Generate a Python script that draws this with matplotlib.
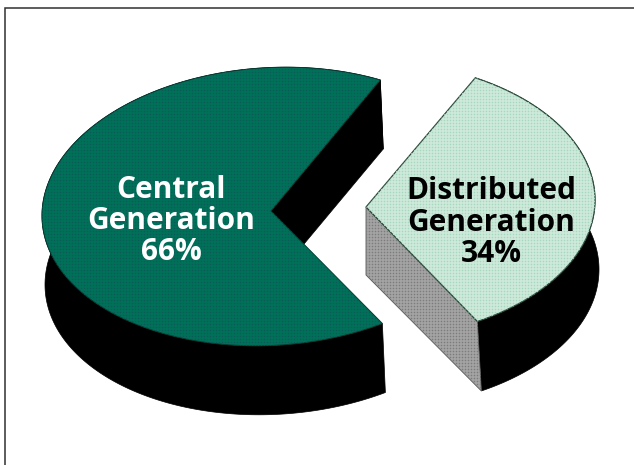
import numpy as np
import matplotlib
matplotlib.use("Agg")
import matplotlib.pyplot as plt
from matplotlib.patches import Polygon

# Data
labels = ["Central\nGeneration\n66%", "Distributed\nGeneration\n34%"]
shares = [66, 34]
top_colors = ["#00725a", "#cfeadb"]
dot_colors = ["#0c5a58", "#a6d8be"]
text_colors = ["white", "black"]
wall_color = "#a4a4a4"
wall_dots = "#7c7c7c"

W, H = 634, 465
fig = plt.figure(figsize=(W / 100, H / 100), dpi=100)
ax = fig.add_axes([0, 0, 1, 1])
ax.set_xlim(0, W)
ax.set_ylim(H, 0)
ax.axis("off")

RX = 229
start = 61.5  # parameter angle where the large slice begins
sweep_big = shares[0] / sum(shares) * 360


def arc(cx, cy, ry, shear, t0, t1, n=240):
    t = np.radians(np.linspace(t0, t1, n))
    dx = RX * np.cos(t)
    return np.column_stack([cx + dx, cy - ry * np.sin(t) - shear * dx])


def dots(patch, color):
    xs, ys = np.meshgrid(np.arange(0, W, 3.0), np.arange(0, H, 3.0))
    sc = ax.scatter(xs.ravel(), ys.ravel(), s=1.3, c=color, linewidths=0,
                    marker="o", zorder=patch.get_zorder() + 0.1)
    sc.set_clip_path(patch)


# Large slice
big_arc = arc(271, 206.5, 139, 0.04, start, start + sweep_big)
big_apex = np.array([[271, 211]])
big_down = np.array([3, 69])
big_top = np.vstack([big_apex, big_arc])
big_side = np.vstack([big_arc, (big_arc + big_down)[::-1]])
big_inner = np.vstack([big_apex, big_arc[:1], big_arc[:1] + big_down, big_apex + big_down])
ax.add_patch(Polygon(big_side, closed=True, fc="black", ec="black", lw=0.5, zorder=2))
ax.add_patch(Polygon(big_inner, closed=True, fc="black", ec="black", lw=0.5, zorder=2))
p = Polygon(big_top, closed=True, fc=top_colors[0], ec="#06382e", lw=0.7, zorder=3)
ax.add_patch(p)
dots(p, dot_colors[0])

# Small slice
small_arc = arc(366, 200, 139, 0, start + sweep_big, start + 360)
small_apex = np.array([[366, 207]])
small_down = np.array([4, 69.5])
small_top = np.vstack([small_apex, small_arc])
small_side = np.vstack([small_arc, (small_arc + small_down)[::-1]])
small_wall = np.vstack([small_apex, small_arc[:1], small_arc[:1] + small_down,
                        small_apex + np.array([0, 68])])
ax.add_patch(Polygon(small_side, closed=True, fc="black", ec="black", lw=0.5, zorder=2))
w = Polygon(small_wall, closed=True, fc=wall_color, ec="#555555", lw=0.6, zorder=3)
ax.add_patch(w)
dots(w, wall_dots)
q = Polygon(small_top, closed=True, fc=top_colors[1], ec="#2c4a3c", lw=0.9, zorder=4)
ax.add_patch(q)
dots(q, dot_colors[1])

# Frame: top and left only
ax.plot([5, 5, W], [H, 8, 8], color="#303030", lw=1.1, zorder=1, solid_joinstyle="miter")

# Labels
pos = [(171, 221), (491, 222.5)]
for lab, (x, y), c in zip(labels, pos, text_colors):
    ax.text(x, y, lab, ha="center", va="center", color=c, fontsize=21.5,
            fontweight="bold", family="Open Sans", linespacing=1.06, zorder=6)

fig.savefig("out.png", dpi=100)
